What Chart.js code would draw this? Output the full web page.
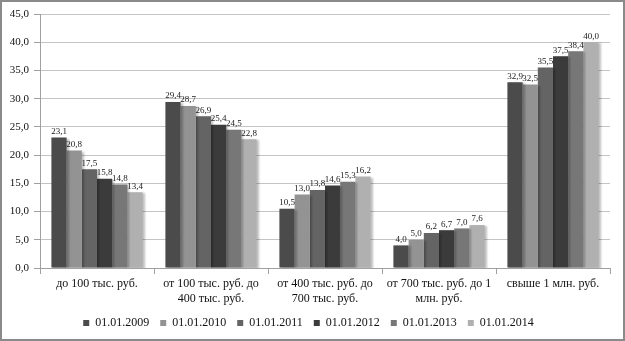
<!DOCTYPE html>
<html>
<head>
<meta charset="utf-8">
<script src="https://cdn.jsdelivr.net/npm/chart.js@4/dist/chart.umd.min.js"></script>
<style>
  html, body { margin: 0; padding: 0; background: #fff; }
  #wrap { width: 625px; height: 341px; }
</style>
</head>
<body>
<div id="wrap"><canvas id="c" width="625" height="341"></canvas></div>
<script>
const categories = [
  ["до 100 тыс. руб."],
  ["от 100 тыс. руб. до", "400 тыс. руб."],
  ["от 400 тыс. руб. до", "700 тыс. руб."],
  ["от 700 тыс. руб. до 1", "млн. руб."],
  ["свыше 1 млн. руб."]
];
const seriesNames = ["01.01.2009", "01.01.2010", "01.01.2011", "01.01.2012", "01.01.2013", "01.01.2014"];
const values2009 = [23.1, 29.4, 10.5, 4.0, 32.9];
const values2010 = [20.8, 28.7, 13.0, 5.0, 32.5];
const values2011 = [17.5, 26.9, 13.8, 6.2, 35.5];
const values2012 = [15.8, 25.4, 14.6, 6.7, 37.5];
const values2013 = [14.8, 24.5, 15.3, 7.0, 38.4];
const values2014 = [13.4, 22.8, 16.2, 7.6, 40.0];
const yTickMin = 0, yTickMax = 45, yTickStep = 5;

const seriesValues = [values2009, values2010, values2011, values2012, values2013, values2014];
const seriesColors = ["#4b4b4b", "#939393", "#646464", "#3b3b3b", "#777777", "#b0b0b0"];

const fmt = v => Number(v).toFixed(1).replace('.', ',');
const FONT = "'Liberation Serif', 'Times New Roman', serif";

const framePlugin = {
  id: 'frame',
  beforeDraw(chart) {
    const ctx = chart.ctx;
    ctx.save();
    ctx.fillStyle = '#ffffff';
    ctx.fillRect(0, 0, chart.width, chart.height);
    ctx.restore();
  },
  afterDraw(chart) {
    const ctx = chart.ctx;
    ctx.save();
    ctx.strokeStyle = '#8a8a8a';
    ctx.lineWidth = 2;
    ctx.strokeRect(1, 1, chart.width - 2, chart.height - 2);
    ctx.restore();
  }
};

const shadowPlugin = {
  id: 'barShadow',
  beforeDatasetDraw(chart) {
    const ctx = chart.ctx;
    ctx.save();
    ctx.shadowColor = 'rgba(0,0,0,0.25)';
    ctx.shadowOffsetX = 2;
    ctx.shadowOffsetY = 1;
    ctx.shadowBlur = 2;
  },
  afterDatasetDraw(chart) {
    chart.ctx.restore();
  }
};

const labelPlugin = {
  id: 'valueLabels',
  afterDatasetsDraw(chart) {
    const ctx = chart.ctx;
    ctx.save();
    ctx.font = "9px " + FONT;
    ctx.fillStyle = '#1a1a1a';
    ctx.textAlign = 'center';
    ctx.textBaseline = 'bottom';
    chart.data.datasets.forEach((ds, di) => {
      const meta = chart.getDatasetMeta(di);
      meta.data.forEach((bar, i) => {
        ctx.fillText(fmt(ds.data[i]), bar.x, bar.y - 1.5);
      });
    });
    ctx.restore();
  }
};

new Chart(document.getElementById('c'), {
  type: 'bar',
  data: {
    labels: categories,
    datasets: seriesNames.map((n, i) => ({
      label: n,
      data: seriesValues[i],
      backgroundColor: seriesColors[i],
      borderWidth: 0,
      barPercentage: 1.0,
      categoryPercentage: 0.8
    }))
  },
  options: {
    responsive: false,
    animation: false,
    devicePixelRatio: 1,
    layout: { padding: { top: 14, right: 15, left: 7, bottom: 2 } },
    plugins: {
      legend: {
        position: 'bottom',
        labels: {
          font: { family: FONT, size: 12 },
          color: '#111',
          boxWidth: 6,
          boxHeight: 6,
          padding: 11
        }
      },
      tooltip: { enabled: false }
    },
    scales: {
      x: {
        grid: {
          offset: true,
          drawOnChartArea: false,
          drawTicks: true,
          tickLength: 6,
          color: '#a0a0a0'
        },
        border: { color: '#a0a0a0' },
        ticks: {
          font: { family: FONT, size: 12, lineHeight: 1.25 },
          color: '#111',
          maxRotation: 0,
          autoSkip: false,
          padding: 2
        },
        afterFit(scale) { scale.height = 38; }
      },
      y: {
        min: yTickMin,
        max: yTickMax,
        grid: {
          color: '#c4c4c4',
          tickColor: '#a0a0a0',
          tickLength: 6
        },
        border: { color: '#a0a0a0' },
        ticks: {
          stepSize: yTickStep,
          font: { family: FONT, size: 11 },
          color: '#111',
          padding: 5,
          callback: v => fmt(v)
        },
        afterFit(scale) { scale.width = 33; }
      }
    }
  },
  plugins: [framePlugin, shadowPlugin, labelPlugin]
});
</script>
</body>
</html>
